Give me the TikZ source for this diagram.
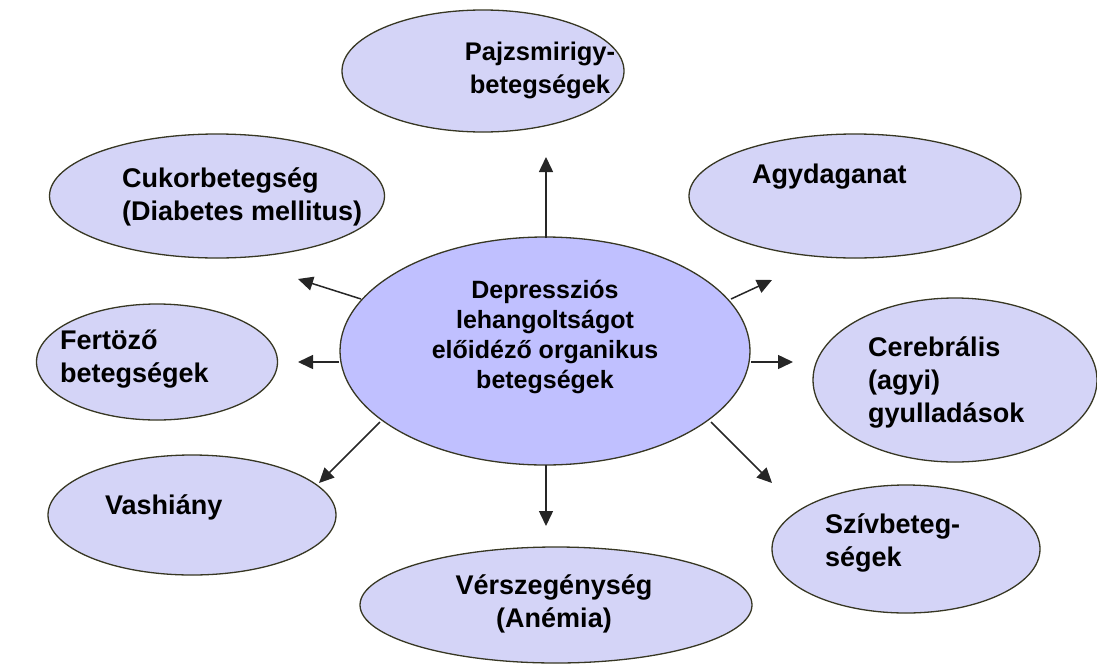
\documentclass[tikz,border=0pt]{standalone}
\usepackage{fontspec}
\setmainfont{Liberation Sans}
\usetikzlibrary{shapes.geometric,arrows.meta}
\definecolor{outerfill}{RGB}{212,212,247}
\definecolor{centerfill}{RGB}{192,192,255}
\definecolor{rim}{RGB}{55,55,35}
\tikzset{
  blob/.style={ellipse,draw=rim,line width=1.3pt,fill=outerfill,inner sep=0pt},
  hub/.style={blob,fill=centerfill},
  otext/.style={font=\fontsize{27}{33}\selectfont\bfseries,inner sep=0pt},
  ctext/.style={font=\fontsize{25}{30}\selectfont\bfseries,inner sep=0pt,align=center},
  conn/.style={draw=black!85,line width=1.5pt,-{Triangle[length=15pt,width=14pt]}}
}
\begin{document}
\begin{tikzpicture}[x=1pt,y=-1pt]
\useasboundingbox (0,0) rectangle (1097,664);
% ellipses
\node[blob,minimum width=282pt,minimum height=122pt] (paj) at (483,71) {};
\node[blob,minimum width=335pt,minimum height=124pt] (cuk) at (217,196) {};
\node[blob,minimum width=332pt,minimum height=124pt] (agy) at (855,196) {};
\node[blob,minimum width=241pt,minimum height=116pt] (fer) at (157,362) {};
\node[blob,minimum width=284pt,minimum height=164pt] (cer) at (955,380) {};
\node[blob,minimum width=288pt,minimum height=120pt] (vas) at (192,515) {};
\node[blob,minimum width=268pt,minimum height=128pt] (szi) at (906,549) {};
\node[blob,minimum width=392pt,minimum height=116pt] (ver) at (556,605) {};
\node[hub,minimum width=410pt,minimum height=228pt] (hub) at (545,351) {};
% texts (base anchor = baseline of the last line)
\node[otext,font=\fontsize{25.5}{33}\selectfont\bfseries,align=center,anchor=base] (tpaj) at (540,93) {Pajzsmirigy-\\betegségek};
\node[otext,align=left,anchor=base west] (tcuk) at (122,220) {Cukorbetegség\\(Diabetes mellitus)};
\node[otext,align=left,anchor=base west] (tagy) at (752,183) {Agydaganat};
\node[otext,align=left,anchor=base west] (tfer) at (60,382) {Fertöző\\betegségek};
\node[otext,align=left,anchor=base west] (tcer) at (868,422) {Cerebrális\\(agyi)\\gyulladások};
\node[otext,align=left,anchor=base west] (tvas) at (105,514) {Vashiány};
\node[otext,align=left,anchor=base west] (tszi) at (825,566) {Szívbeteg-\\ségek};
\node[otext,align=center,anchor=base] (tver) at (554,627) {Vérszegénység\\(Anémia)};
\node[ctext,anchor=base] (thub) at (545,388) {Depressziós\\lehangoltságot\\előidéző organikus\\betegségek};
% arrow end points
\coordinate (sU) at (546,238);  \coordinate (eU) at (546,157);
\coordinate (sUL) at (361,299); \coordinate (eUL) at (298,279);
\coordinate (sL) at (339,362);  \coordinate (eL) at (298,362);
\coordinate (sLL) at (380,422); \coordinate (eLL) at (319,483);
\coordinate (sD) at (546,465);  \coordinate (eD) at (546,526);
\coordinate (sLR) at (711,422); \coordinate (eLR) at (772,483);
\coordinate (sR) at (751,362);  \coordinate (eR) at (793,362);
\coordinate (sUR) at (731,299); \coordinate (eUR) at (772,280);
\draw[conn] (sU) -- (eU);
\draw[conn] (sUL) -- (eUL);
\draw[conn] (sL) -- (eL);
\draw[conn] (sLL) -- (eLL);
\draw[conn] (sD) -- (eD);
\draw[conn] (sLR) -- (eLR);
\draw[conn] (sR) -- (eR);
\draw[conn] (sUR) -- (eUR);
\end{tikzpicture}
\end{document}
